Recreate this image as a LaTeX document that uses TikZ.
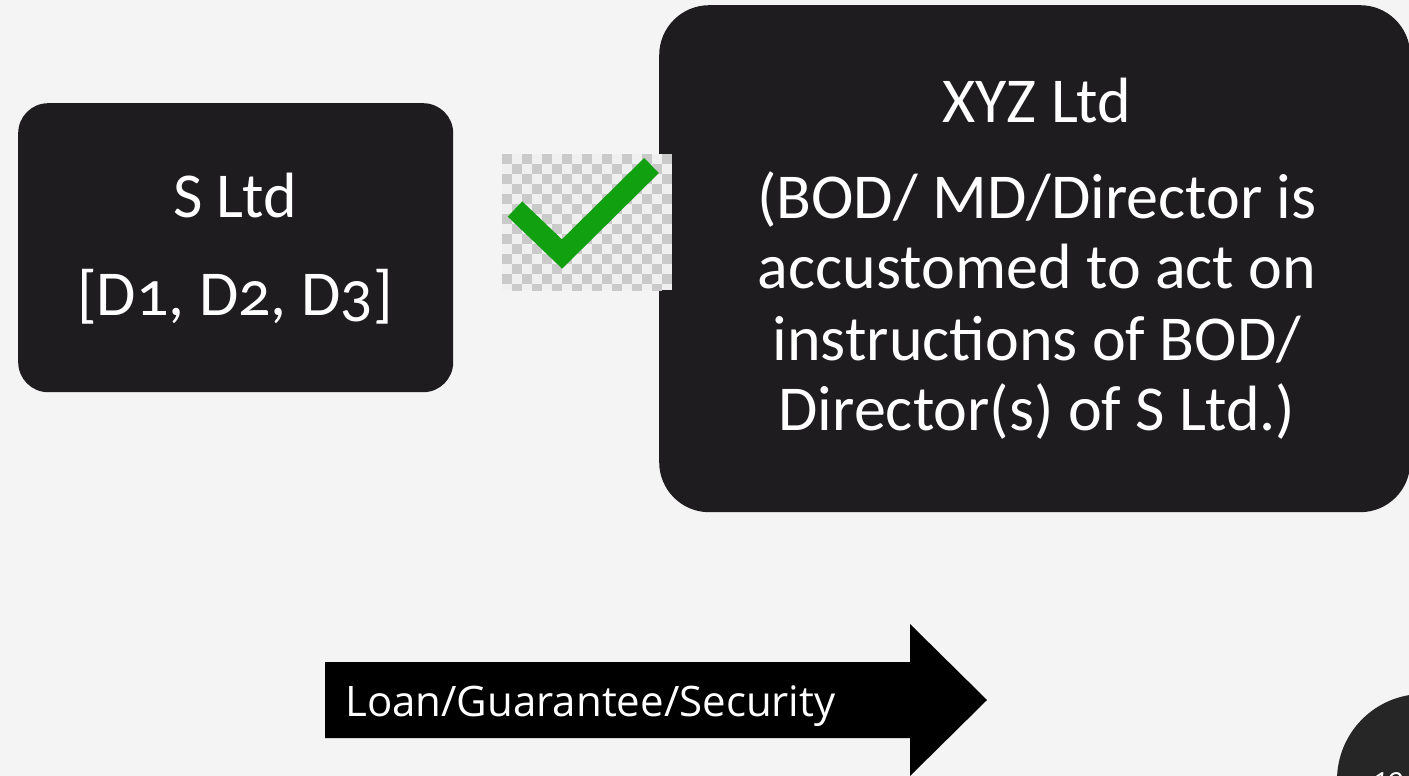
\documentclass[tikz,border=0pt]{standalone}
\usepackage{fontspec}
\setmainfont{Carlito}[Numbers=OldStyle]
\newfontfamily\arrowfont{Open Sans}
\definecolor{bg}{HTML}{F4F4F4}
\definecolor{boxfill}{HTML}{1E1C1F}
\definecolor{chkgreen}{HTML}{10A010}
\definecolor{chkgray}{HTML}{CACACA}
\definecolor{chklight}{HTML}{F0F0F0}
\definecolor{circfill}{HTML}{262626}
\tikzset{
  darkbox/.style={fill=boxfill, draw=none, inner sep=0pt, anchor=north west},
  boxtext/.style={text=white, inner sep=0pt, anchor=base, font=\fontsize{64}{70}\selectfont},
  arrowtext/.style={text=white, inner sep=0pt, anchor=base west, font=\arrowfont\fontsize{42}{48}\selectfont},
}
\begin{document}
\begin{tikzpicture}[x=1pt,y=-1pt]
\useasboundingbox (0,0) rectangle (1409,776);
\fill[bg] (0,0) rectangle (1409,776);
\begin{scope}
\clip (0,0) rectangle (1409,776);
% S Ltd box
\node[darkbox, rounded corners=30pt, minimum width=435pt, minimum height=289pt] (sbox) at (18,103) {};
\node[boxtext] (sname) at (235,217) {S Ltd};
\node[boxtext] (sdirs) at (235,315) {[D1, D2, D3]};
% XYZ box
\node[darkbox, rounded corners=50pt, minimum width=751pt, minimum height=507pt] (xbox) at (659,5) {};
\node[boxtext] (xname) at (1037,122) {XYZ Ltd};
\node[boxtext] (xl1) at (1037,218) {(BOD/ MD/Director is};
\node[boxtext] (xl2) at (1037,288) {accustomed to act on};
\node[boxtext] (xl3) at (1037,360) {instructions of BOD/};
\node[boxtext] (xl4) at (1037,430) {Director(s) of S Ltd.)};
% checker image with tick
\begin{scope}
\clip (502,154) rectangle (672,290);
\fill[chklight] (502,154) rectangle (672,290);
\foreach \i in {0,...,16}{
  \foreach \j in {0,...,13}{
    \pgfmathtruncatemacro\parity{mod(\i+\j,2)}
    \ifnum\parity=0
      \fill[chkgray] ({502+10*\i},{154+10*\j}) rectangle ++(10,10);
    \fi
  }
}
\end{scope}
\coordinate (tickA) at (515,209);
\coordinate (tickB) at (562,254);
\coordinate (tickC) at (651.5,165.5);
\draw[chkgreen, line width=21pt, line join=miter, line cap=butt] (tickA) -- (tickB) -- (tickC);
% block arrow
\fill[black] (325,662) -- (910,662) -- (910,624) -- (987,700) -- (910,776) -- (910,738) -- (325,738) -- cycle;
\node[arrowtext] (loan) at (345,716) {Loan/Guarantee/Security};
% page number circle
\fill[circfill] (1423,780) circle[radius=86];
\node[text=white, inner sep=0pt, anchor=base west, font=\itshape\fontsize{30}{36}\selectfont] (pgnum) at (1372,788) {10};
\end{scope}
\end{tikzpicture}
\end{document}
